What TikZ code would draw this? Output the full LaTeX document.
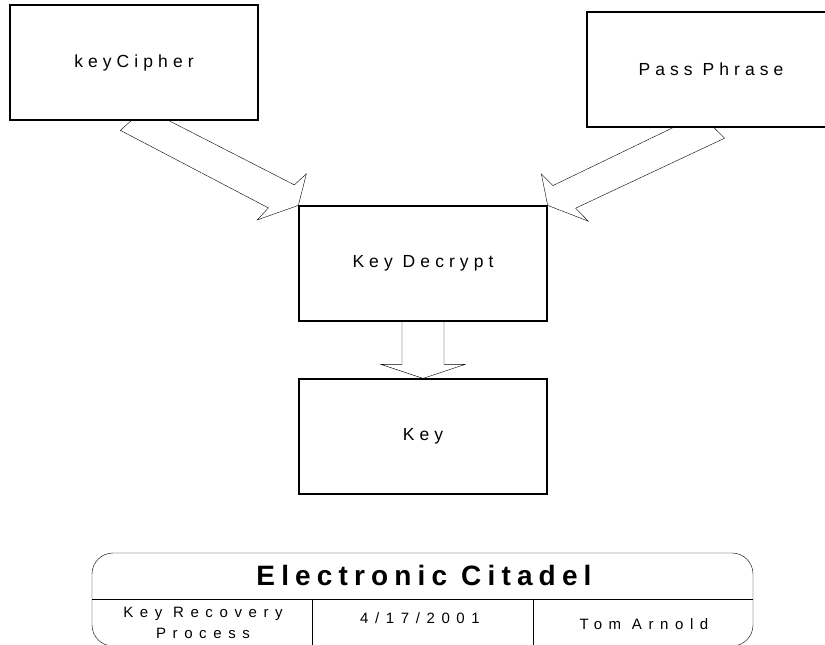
\documentclass[tikz,border=0pt]{standalone}
\usepackage{fontspec}
\setmainfont{Liberation Sans}
\newfontfamily\boxfont[LetterSpace=29]{Liberation Sans}
\newfontfamily\cellfont[LetterSpace=44]{Liberation Sans}
\newfontfamily\titlefont[LetterSpace=22]{Liberation Sans}
\usetikzlibrary{calc,backgrounds}
\begin{document}
\begin{tikzpicture}[x=1pt,y=-1pt,line width=1.25pt,
  box/.style={draw,fill=white,minimum width=248pt,minimum height=115pt,inner sep=0pt,
    font=\boxfont\fontsize{17.5}{21}\selectfont},
  blockarrow/.style={draw,fill=white,line join=miter},
  cell/.style={inner sep=0pt,anchor=base,font=\cellfont\fontsize{15}{18}\selectfont}]
\useasboundingbox (0,0) rectangle (825,645);

% process boxes
\node[box] (kc)  at (134,62.5)  {keyCipher};
\node[box] (pp)  at (711,69.5)  {Pass Phrase};
\node[box] (dec) at (423,263.5) {Key Decrypt};
\node[box] (key) at (423,436.5) {Key};

% hollow block arrows, tucked under the boxes
\begin{pgfonlayer}{background}
\draw[blockarrow,shift={(dec.north west)}]
  (-153.5,-97) -- (-178,-75) -- (-30,2.5) -- (-41,14.5) -- (0,0)
  -- (8,-31.5) -- (-4,-20.5) -- (-131,-85.5) -- cycle;
\draw[blockarrow,shift={(dec.north east)}]
  (152.5,-91.1) -- (128,-79) -- (5.3,-19.8) -- (-6.3,-31.5) -- (0,0)
  -- (40.7,15.8) -- (28,2.8) -- (177,-67.2) -- (164.7,-79.2) -- cycle;
\draw[blockarrow,shift={(key.north)}]
  (-21,-63) -- (-21,-14) -- (-42,-14) -- (0,0) -- (42,-14) -- (21,-14)
  -- (21,-63) -- cycle;
\end{pgfonlayer}

% title block
\draw[rounded corners=21pt] (92,553) rectangle (753,646);
\draw (92,599) -- (753,599);
\draw (312,599) -- (312,646);
\draw (533,599) -- (533,646);
\node[anchor=base,inner sep=0pt,font=\titlefont\bfseries\fontsize{28}{32}\selectfont]
  (title) at (424,585) {Electronic Citadel};
\node[cell] (proc1) at (203,617) {Key Recovery};
\node[cell] (proc2) at (203,638) {Process};
\node[cell] (date) at (420,623) {4/17/2001};
\node[cell] (author) at (644,629) {Tom Arnold};
\end{tikzpicture}
\end{document}
